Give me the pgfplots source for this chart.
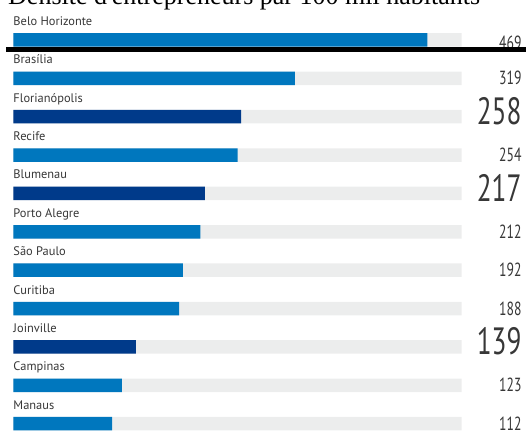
\documentclass[border=0pt]{standalone}
\usepackage{pgfplots}
\pgfplotsset{compat=1.18}
\usepackage{fontspec}
\setmainfont{PT Sans}
\newfontfamily\numfont[FakeStretch=0.72]{PT Sans}
\newfontfamily\titlefont{Liberation Serif}
\definecolor{lightbar}{RGB}{0,119,190}
\definecolor{darkbar}{RGB}{0,58,138}
\definecolor{track}{RGB}{236,237,237}
\definecolor{txt}{RGB}{55,55,55}
\begin{document}
\begin{tikzpicture}[x=1pt,y=1pt]
\path[use as bounding box] (0,-435) rectangle (526,0);
\node[anchor=base west, inner sep=0pt] at (8,-5) {\resizebox{472pt}{!}{\titlefont Densité d'entrepreneurs par 100 mil habitants}};
\begin{axis}[
  at={(13.3pt,-20.8pt)}, anchor=north west,
  scale only axis, width=448.4pt, height=422.1pt,
  xmin=0, xmax=508, ymin=-0.5, ymax=10.5, y dir=reverse,
  hide axis, clip=false,
  xbar, bar width=13.5pt,
]
\addplot[xbar, bar shift=0pt, fill=track, draw=none] coordinates {
(508,0) (508,1) (508,2) (508,3) (508,4) (508,5) (508,6) (508,7) (508,8) (508,9) (508,10)};
\addplot[xbar, bar shift=0pt, fill=lightbar, draw=none] coordinates {
(469,0) (319,1) (254,3) (212,5) (192,6) (188,7) (123,9) (112,10)};
\addplot[xbar, bar shift=0pt, fill=darkbar, draw=none] coordinates {
(258,2) (217,4) (139,8)};
\foreach \i/\name in {0/Belo Horizonte,1/Brasília,2/Florianópolis,3/Recife,4/Blumenau,5/Porto Alegre,6/São Paulo,7/Curitiba,8/Joinville,9/Campinas,10/Manaus}{
  \edef\tmp{\noexpand\node[anchor=base west, inner sep=0pt, yshift=14.5pt, font=\noexpand\fontsize{12.4}{13}\noexpand\selectfont, text=txt] at (axis cs:0,\i) {\name};}
  \tmp
}
\node[anchor=base east, inner sep=0pt, xshift=60pt, yshift=-10pt, font=\numfont\fontsize{19}{20}\selectfont, text=txt] at (axis cs:508,0) {469};
\foreach \i/\v in {1/319,3/254,5/212,6/192,7/188,9/123,10/112}{
  \edef\tmp{\noexpand\node[anchor=base east, inner sep=0pt, xshift=60pt, yshift=-6.5pt, font=\noexpand\numfont\noexpand\fontsize{19}{20}\noexpand\selectfont, text=txt] at (axis cs:508,\i) {\v};}
  \tmp
}
\foreach \i/\v in {2/258,4/217,8/139}{
  \edef\tmp{\noexpand\node[anchor=base east, inner sep=0pt, xshift=60pt, yshift=-8pt, font=\noexpand\numfont\noexpand\fontsize{38}{40}\noexpand\selectfont, text=txt] at (axis cs:508,\i) {\v};}
  \tmp
}
\end{axis}
\fill[black] (6,-47.5) rectangle (526,-52);
\end{tikzpicture}
\end{document}
